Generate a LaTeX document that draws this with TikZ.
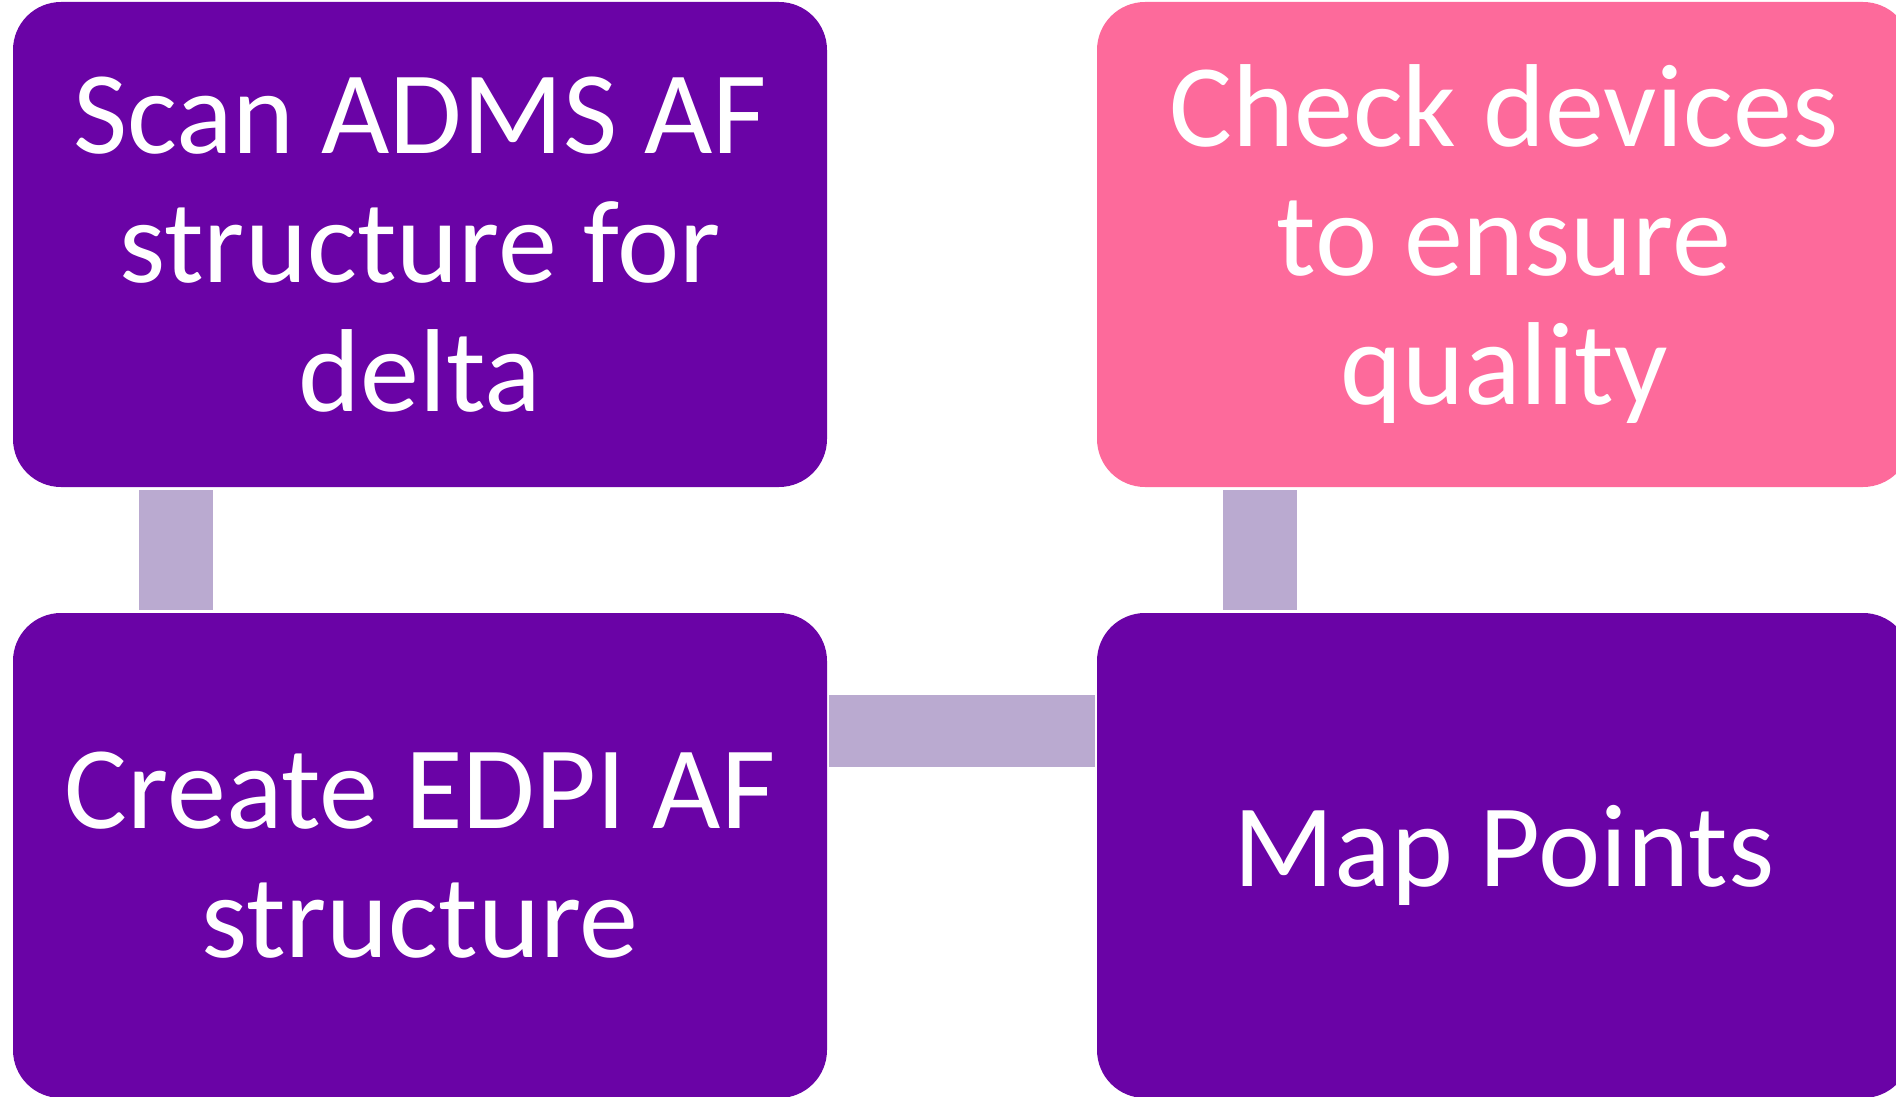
\documentclass[tikz,border=0pt]{standalone}
\usepackage{fontspec}
\setmainfont{Carlito}
\usetikzlibrary{calc}
\definecolor{boxpurple}{HTML}{6A03A6}
\definecolor{boxpink}{HTML}{FD6A9B}
\definecolor{linkfill}{HTML}{BAAAD0}
\tikzset{
  stepbox/.style={rectangle, rounded corners=24pt, inner sep=0pt,
    minimum width=407pt, minimum height=242.5pt, text=white,
    align=center, font=\fontsize{59}{64.5}\selectfont},
  vlink/.style={draw=linkfill, line width=37pt, shorten <=1.5pt, shorten >=1.5pt},
  hlink/.style={draw=linkfill, line width=36pt, shorten <=1pt, shorten >=1pt}
}
\begin{document}
\begin{tikzpicture}[x=0.5pt, y=-0.5pt]
  \useasboundingbox (0,0) rectangle (1896,1097);
  % four process steps
  \node[stepbox, fill=boxpurple] (scan)   at (420,244.5)  {Scan ADMS AF\\structure for\\delta};
  \node[stepbox, fill=boxpink]   (check)  at (1504,244.5) {Check devices\\to ensure\\quality};
  \node[stepbox, fill=boxpurple] (create) at (420,855.5)  {Create EDPI AF\\structure};
  \node[stepbox, fill=boxpurple] (map)    at (1504,855.5) {Map Points};
  % links between the steps
  \draw[vlink] ($(scan.south west)+(163,0)$) -- ($(create.north west)+(163,0)$);
  \draw[vlink] ($(check.south west)+(163,0)$) -- ($(map.north west)+(163,0)$);
  \coordinate (h1) at ($(create.east)+(0,-124.5)$);
  \draw[hlink] (h1) -- (h1 -| map.west);
\end{tikzpicture}
\end{document}
